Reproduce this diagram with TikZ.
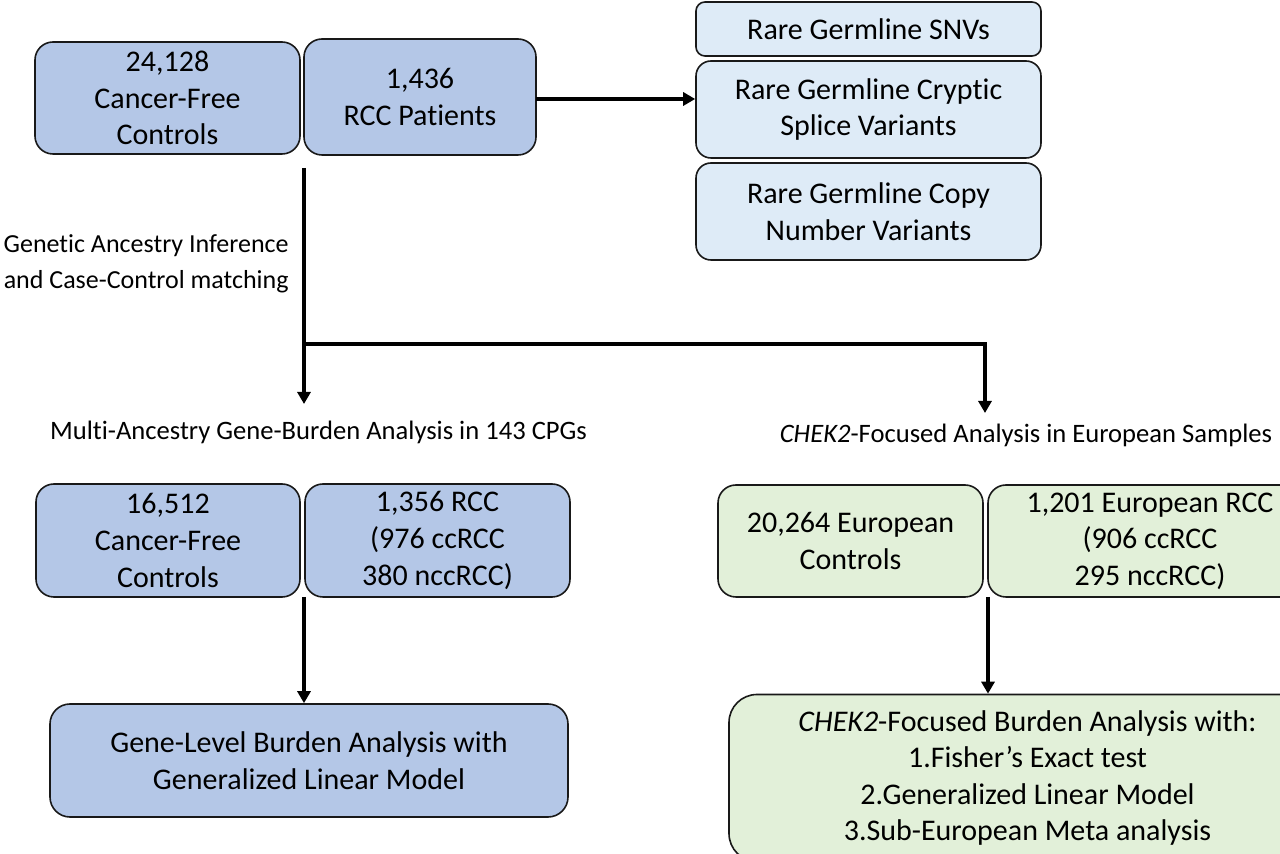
\documentclass[tikz,border=0pt]{standalone}
\usepackage{fontspec}
\setmainfont{Carlito}[Ligatures={NoCommon}]
\usetikzlibrary{arrows.meta}
\definecolor{dblue}{HTML}{B4C7E7}
\definecolor{lblue}{HTML}{DEEBF7}
\definecolor{lgreen}{HTML}{E2F0D9}
\newcommand\bxfont{\fontsize{15}{18.3}\selectfont}
\newcommand\lbfont{\fontsize{13.3}{18}\selectfont}
\newcommand\lbsfont{\fontsize{13}{18}\selectfont}
\tikzset{
  box/.style={draw=black!90, line width=0.8pt, rounded corners=9pt, align=center, inner sep=0pt, font=\bxfont},
  bluebox/.style={box, fill=dblue},
  lightbox/.style={box, fill=lblue},
  greenbox/.style={box, fill=lgreen},
  lbl/.style={inner sep=0pt, font=\lbfont},
  conn/.style={line width=2pt, draw=black},
  arr/.style={conn, -{Triangle[length=6pt,width=6.5pt]}}
}
\begin{document}
\begin{tikzpicture}[x=0.5pt,y=-0.5pt]
\useasboundingbox (0,0) rectangle (1280,854);
\clip (0,0) rectangle (1280,854);
% top row
\node[bluebox, minimum width=132.5pt, minimum height=56pt] (A) at (167.5,98) {24,128\\Cancer-Free\\Controls};
\node[bluebox, minimum width=116pt, minimum height=58pt] (B) at (420,97) {1,436\\RCC Patients};
\node[lightbox, rounded corners=4.5pt, minimum width=172.5pt, minimum height=27pt] (S) at (868.5,29) {Rare Germline SNVs};
\node[lightbox, rounded corners=7.5pt, minimum width=172.5pt, minimum height=48.5pt] (Cr) at (868.5,109.5) {Rare Germline Cryptic\\Splice Variants};
\node[lightbox, rounded corners=7.5pt, minimum width=172.5pt, minimum height=48.5pt] (Cn) at (868.5,211.5) {Rare Germline Copy\\Number Variants};
% labels
\node[lbl, font=\lbsfont, anchor=east, align=right] (G) at (289,264) {Genetic Ancestry Inference\\and Case-Control matching};
\node[lbl] (T1) at (318.5,432) {Multi-Ancestry Gene-Burden Analysis in 143 CPGs};
\node[lbl] (T2) at (1026,435) {\textit{CHEK2}-Focused Analysis in European Samples};
% lower left
\node[bluebox, minimum width=132pt, minimum height=56.5pt] (C) at (168,540.5) {16,512\\Cancer-Free\\Controls};
\node[bluebox, minimum width=132.5pt, minimum height=56.5pt] (D) at (437.5,540.5) {1,356 RCC\\(976 ccRCC\\380 nccRCC)};
\node[bluebox, rounded corners=10pt, minimum width=259pt, minimum height=56.5pt] (E) at (309,760.5) {Gene-Level Burden Analysis with\\Generalized Linear Model};
% lower right
\node[greenbox, minimum width=132.5pt, minimum height=56pt] (F) at (850.5,541) {20,264 European\\Controls};
\node[greenbox, minimum width=162pt, minimum height=56pt] (Gr) at (1150,541) {1,201 European RCC\\(906 ccRCC\\295 nccRCC)};
\node[greenbox, rounded corners=14pt, minimum width=298.5pt, minimum height=83.5pt] (H) at (1027.5,778) {\textit{CHEK2}-Focused Burden Analysis with:\\1.Fisher’s Exact test\\2.Generalized Linear Model\\3.Sub-European Meta analysis};
% connector coordinates
\coordinate (s0) at (304,168);
\coordinate (j1) at (304,344);
\coordinate (t1) at (304,404);
\coordinate (j2) at (985,344);
\coordinate (t2) at (985,413);
\coordinate (c0) at (304,597);
\coordinate (f0) at (988,597);
\coordinate (b0) at (536,99);
% connectors
\draw[arr] (b0) -- (b0 -| Cr.west);
\draw[arr] (s0) -- (t1);
\draw[arr] (j1) -- (j2) -- (t2);
\draw[arr] (c0) -- (c0 |- E.north);
\draw[arr] (f0) -- (f0 |- H.north);
\end{tikzpicture}
\end{document}
